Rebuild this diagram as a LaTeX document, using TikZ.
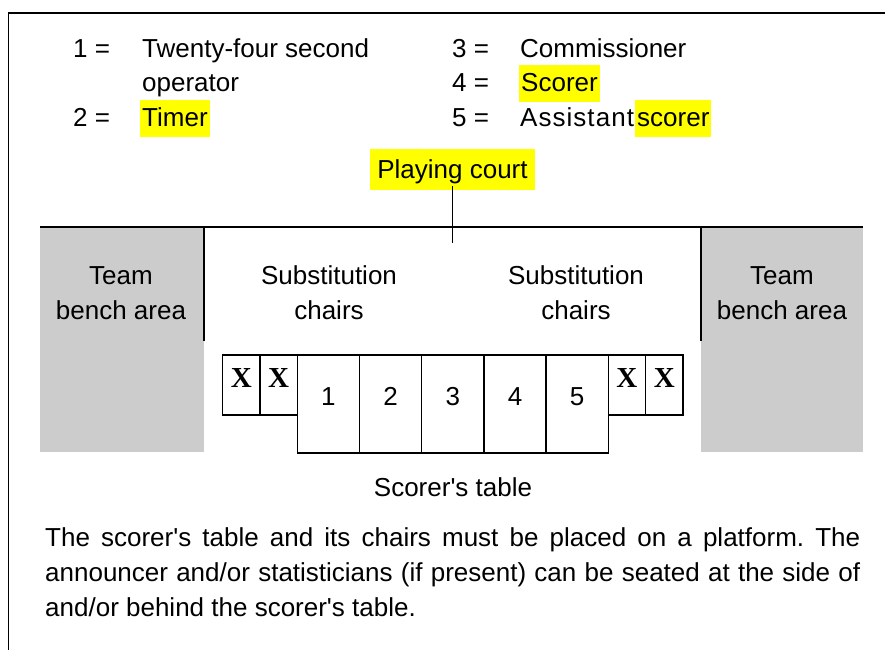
\documentclass[tikz,border=0pt]{standalone}
\usepackage{fontspec}
\setmainfont{Liberation Sans}
\newfontfamily\serifx{Liberation Serif}
\usepackage{tikz}
\usetikzlibrary{arrows,shapes}
\definecolor{benchgray}{RGB}{204,204,204}
\definecolor{marker}{RGB}{255,255,0}

\begin{document}
\begin{tikzpicture}[x=1pt, y=-1pt,
    txt/.style={inner sep=0pt, font=\fontsize{26}{35}\selectfont},
    hl/.style={txt, fill=marker, inner xsep=2pt, text height=27pt, text depth=10pt},
    seat/.style={draw, line width=1.3pt, inner sep=0pt, minimum height=60pt, minimum width=37.3pt, text height=19pt, text depth=15pt, font=\serifx\bfseries\fontsize{29}{29}\selectfont},
    cell/.style={draw, line width=1.3pt, inner sep=0pt, minimum height=98pt, minimum width=62.2pt, text height=18pt, text depth=16pt, font=\fontsize{26}{26}\selectfont}]
\useasboundingbox (0,0) rectangle (885,650);
% frame and court side
    \draw[line width=1.6pt] (8.5,650) -- (8.5,13) -- (885,13);
    \fill[benchgray] (40,227) rectangle (204,452);
    \fill[benchgray] (701,227) rectangle (863,452);
    \draw[line width=1.8pt] (40,227) -- (863,227);
    \draw[line width=1.3pt] (204,227) -- (204,341);
    \draw[line width=1.3pt] (701,227) -- (701,341);

    % legend
    \node[txt, anchor=base west] (one) at (73,58) {1 =};
    \node[txt, anchor=base west] (oneName) at (142,58) {Twenty-four second};
    \node[txt, anchor=base west] (oneName2) at (142,92) {operator};
    \node[txt, anchor=base west] (two) at (73,127) {2 =};
    \node[hl, anchor=base west] (twoName) at (140,127) {Timer};
    \node[txt, anchor=base west] (three) at (452,58) {3 =};
    \node[txt, anchor=base west] (threeName) at (520,58) {Commissioner};
    \node[txt, anchor=base west] (four) at (452,92) {4 =};
    \node[hl, anchor=base west] (fourName) at (519,92) {Scorer};
    \node[txt, anchor=base west] (five) at (452,127) {5 =};
    \node[txt, anchor=base west] (fiveName) at (520,127) {\addfontfeature{LetterSpace=4}Assistant};
    \node[hl, anchor=base west] (fiveName2) at (635,127) {scorer};

    \node[hl, minimum width=165pt, text height=29pt, text depth=12pt, anchor=base] (court) at (452.5,178) {Playing court};
    \coordinate (courtEnd) at (452.5,243);
    \draw[line width=1.5pt] ([yshift=4pt]court.south) -- (courtEnd);

    % areas along the side line
    \node[txt, align=center] (benchL) at (121,293) {Team\\bench area};
    \node[txt, align=center] (subL) at (329,293) {Substitution\\chairs};
    \node[txt, align=center] (subR) at (576,293) {Substitution\\chairs};
    \node[txt, align=center] (benchR) at (782,293) {Team\\bench area};

    % scorer's table and chairs
    \node[seat] (chairL1) at (241.35,385) {X};
    \node[seat] (chairL2) at (278.65,385) {X};
    \node[cell] (seat1) at (328.4,404) {1};
    \node[cell] (seat2) at (390.6,404) {2};
    \node[cell] (seat3) at (452.8,404) {3};
    \node[cell] (seat4) at (515.0,404) {4};
    \node[cell] (seat5) at (577.2,404) {5};
    \node[seat] (chairR1) at (626.95,385) {X};
    \node[seat] (chairR2) at (664.25,385) {X};

    \node[txt, anchor=base] (table) at (453,496) {Scorer\textquotesingle s table};
    \node[txt, anchor=base west, text width=815pt, align=justify] (note) at (45,546)
        {\frenchspacing The scorer\textquotesingle s table and its chairs must be placed on a platform. The\linebreak
        announcer and/or statisticians (if present) can be seated at the side of\linebreak
        and/or behind the scorer\textquotesingle s table.};
\end{tikzpicture}
\end{document}
